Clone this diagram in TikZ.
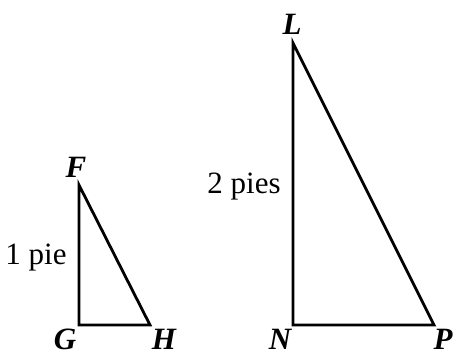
\documentclass[tikz,border=0pt]{standalone}
\usepackage{fontspec}
\setmainfont{Liberation Serif}
\begin{document}
\begin{tikzpicture}[x=0.5pt, y=-0.5pt, line width=1.4pt, line join=miter,
	every node/.style={font=\fontsize{15.5}{18}\selectfont, inner sep=0pt},
	vlabel/.style={anchor=base, font=\fontsize{15.5}{18}\selectfont\bfseries\itshape}]
	\useasboundingbox (0,0) rectangle (454,350);
	
	% ==================== 小三角形 FGH ====================
	\coordinate (F) at (79,185);
	\coordinate (G) at (79,325);
	\coordinate (H) at (150,325);
	\draw (F) -- (G) -- (H) -- cycle;
	\node[vlabel] (labF) at (76,177) {F};
	\node[vlabel] (labG) at (65,349) {G};
	\node[vlabel] (labH) at (164,349) {H};
	% 边长标注
	\node (pieFG) at (36,258) {1 pie};
	
	% ==================== 大三角形 LNP ====================
	\coordinate (L) at (293,43);
	\coordinate (N) at (293,325);
	\coordinate (P) at (434,325);
	\draw (L) -- (N) -- (P) -- cycle;
	\node[vlabel] (labL) at (292,34) {L};
	\node[vlabel] (labN) at (280,349) {N};
	\node[vlabel] (labP) at (443,349) {P};
	% 边长标注
	\node (pieLN) at (244,187) {2 pies};
\end{tikzpicture}
\end{document}
